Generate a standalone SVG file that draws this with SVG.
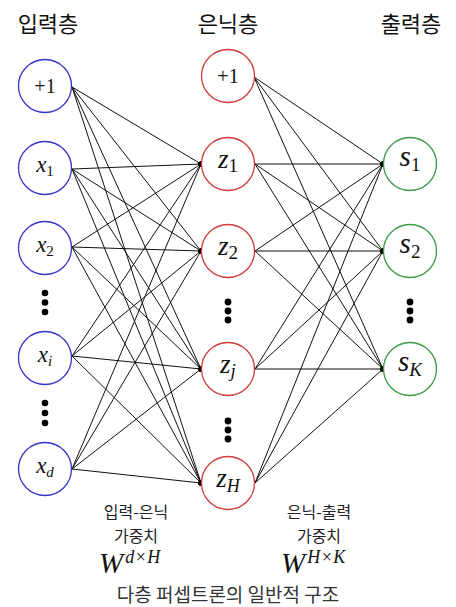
<svg xmlns="http://www.w3.org/2000/svg" width="456" height="607" viewBox="0 0 456 607">
  <style>
    .hdr { font-family: "Noto Sans CJK KR", "Noto Sans", sans-serif; font-size: 22px; fill: #111; text-anchor: middle; }
    .cap { font-family: "Noto Sans CJK KR", "Noto Sans", sans-serif; font-size: 16px; fill: #222; text-anchor: middle; }
    .ttl { font-family: "Noto Sans CJK KR", "Noto Sans", sans-serif; font-size: 19px; fill: #333; text-anchor: middle; }
    .math { font-family: "Liberation Serif", "DejaVu Serif", serif; fill: #111; text-anchor: middle; }
    .wt { font-family: "Liberation Serif", "DejaVu Serif", serif; fill: #111; }
    .it { font-style: italic; }
    .in { fill: #fff; stroke: #3434c8; stroke-width: 1.3; }
    .hid { fill: #fff; stroke: #d23a3a; stroke-width: 1.3; }
    .out { fill: #fff; stroke: #3c9a44; stroke-width: 1.3; }
    .edge { stroke: #111; stroke-width: 1; fill: none; marker-end: url(#dot); }
    .ell { fill: #000; }
  </style>
  <defs>
    <marker id="dot" viewBox="0 0 6 6" refX="3" refY="3" markerWidth="6" markerHeight="6" markerUnits="userSpaceOnUse">
      <circle cx="3" cy="3" r="2.6" fill="#000"/>
    </marker>
  </defs>
  <rect width="456" height="607" fill="#fff"/>

  <!-- layer headers -->
  <text class="hdr" x="48" y="32">입력층</text>
  <text class="hdr" x="228" y="32">은닉층</text>
  <text class="hdr" x="411" y="32">출력층</text>

  <!-- connectors -->
  <g id="connectors">
    <!-- input -> hidden -->
    <line class="edge" x1="72" y1="87" x2="201" y2="164"/>
    <line class="edge" x1="72" y1="87" x2="201" y2="251"/>
    <line class="edge" x1="72" y1="87" x2="201" y2="369"/>
    <line class="edge" x1="72" y1="87" x2="201" y2="483"/>
    <line class="edge" x1="72" y1="169" x2="201" y2="164"/>
    <line class="edge" x1="72" y1="169" x2="201" y2="251"/>
    <line class="edge" x1="72" y1="169" x2="201" y2="369"/>
    <line class="edge" x1="72" y1="169" x2="201" y2="483"/>
    <line class="edge" x1="72" y1="247" x2="201" y2="164"/>
    <line class="edge" x1="72" y1="247" x2="201" y2="251"/>
    <line class="edge" x1="72" y1="247" x2="201" y2="369"/>
    <line class="edge" x1="72" y1="247" x2="201" y2="483"/>
    <line class="edge" x1="72" y1="356" x2="201" y2="164"/>
    <line class="edge" x1="72" y1="356" x2="201" y2="251"/>
    <line class="edge" x1="72" y1="356" x2="201" y2="369"/>
    <line class="edge" x1="72" y1="356" x2="201" y2="483"/>
    <line class="edge" x1="72" y1="469" x2="201" y2="164"/>
    <line class="edge" x1="72" y1="469" x2="201" y2="251"/>
    <line class="edge" x1="72" y1="469" x2="201" y2="369"/>
    <line class="edge" x1="72" y1="469" x2="201" y2="483"/>
    <!-- hidden -> output -->
    <line class="edge" x1="254" y1="77" x2="383" y2="164"/>
    <line class="edge" x1="254" y1="77" x2="383" y2="251"/>
    <line class="edge" x1="254" y1="77" x2="383" y2="369"/>
    <line class="edge" x1="255" y1="164" x2="383" y2="164"/>
    <line class="edge" x1="255" y1="164" x2="383" y2="251"/>
    <line class="edge" x1="255" y1="164" x2="383" y2="369"/>
    <line class="edge" x1="255" y1="251" x2="383" y2="164"/>
    <line class="edge" x1="255" y1="251" x2="383" y2="251"/>
    <line class="edge" x1="255" y1="251" x2="383" y2="369"/>
    <line class="edge" x1="255" y1="369" x2="383" y2="164"/>
    <line class="edge" x1="255" y1="369" x2="383" y2="251"/>
    <line class="edge" x1="255" y1="369" x2="383" y2="369"/>
    <line class="edge" x1="255" y1="483" x2="383" y2="164"/>
    <line class="edge" x1="255" y1="483" x2="383" y2="251"/>
    <line class="edge" x1="255" y1="483" x2="383" y2="369"/>
  </g>

  <!-- input layer -->
  <g id="in-bias">
    <circle class="in" cx="45" cy="86" r="26.5"/>
    <text class="math" x="45" y="93" font-size="20">+1</text>
  </g>
  <g id="in-x1">
    <circle class="in" cx="45" cy="168" r="26.5"/>
    <text class="math" x="45" y="172" font-size="23"><tspan class="it">x</tspan><tspan font-size="15" dy="4">1</tspan></text>
  </g>
  <g id="in-x2">
    <circle class="in" cx="45" cy="248" r="26.5"/>
    <text class="math" x="45" y="252" font-size="23"><tspan class="it">x</tspan><tspan font-size="15" dy="4">2</tspan></text>
  </g>
  <g id="in-xi">
    <circle class="in" cx="45" cy="358" r="26.5"/>
    <text class="math" x="45" y="362" font-size="23"><tspan class="it">x</tspan><tspan class="it" font-size="15" dy="4">i</tspan></text>
  </g>
  <g id="in-xd">
    <circle class="in" cx="45" cy="469" r="26.5"/>
    <text class="math" x="45" y="473" font-size="23"><tspan class="it">x</tspan><tspan class="it" font-size="15" dy="4">d</tspan></text>
  </g>
  <g id="in-dots">
    <circle class="ell" cx="45" cy="293" r="3.3"/>
    <circle class="ell" cx="45" cy="302.5" r="3.3"/>
    <circle class="ell" cx="45" cy="312" r="3.3"/>
    <circle class="ell" cx="45" cy="403" r="3.3"/>
    <circle class="ell" cx="45" cy="413" r="3.3"/>
    <circle class="ell" cx="45" cy="423" r="3.3"/>
  </g>

  <!-- hidden layer -->
  <g id="hid-bias">
    <circle class="hid" cx="228" cy="76" r="26.5"/>
    <text class="math" x="228" y="83" font-size="20">+1</text>
  </g>
  <g id="hid-z1">
    <circle class="hid" cx="228" cy="164" r="26.5"/>
    <text class="math" x="228" y="168" font-size="27"><tspan class="it">z</tspan><tspan font-size="19" dy="4">1</tspan></text>
  </g>
  <g id="hid-z2">
    <circle class="hid" cx="228" cy="251" r="26.5"/>
    <text class="math" x="228" y="255" font-size="27"><tspan class="it">z</tspan><tspan font-size="19" dy="4">2</tspan></text>
  </g>
  <g id="hid-zj">
    <circle class="hid" cx="228" cy="369" r="26.5"/>
    <text class="math" x="228" y="373" font-size="27"><tspan class="it">z</tspan><tspan class="it" font-size="19" dy="4">j</tspan></text>
  </g>
  <g id="hid-zH">
    <circle class="hid" cx="228" cy="483" r="26.5"/>
    <text class="math" x="228" y="487" font-size="27"><tspan class="it">z</tspan><tspan class="it" font-size="18" dy="5">H</tspan></text>
  </g>
  <g id="hid-dots">
    <circle class="ell" cx="228" cy="302" r="3.4"/>
    <circle class="ell" cx="228" cy="311" r="3.4"/>
    <circle class="ell" cx="228" cy="320" r="3.4"/>
    <circle class="ell" cx="228" cy="421" r="3.4"/>
    <circle class="ell" cx="228" cy="430" r="3.4"/>
    <circle class="ell" cx="228" cy="439" r="3.4"/>
  </g>

  <!-- output layer -->
  <g id="out-s1">
    <circle class="out" cx="410" cy="164" r="26.5"/>
    <text class="math" x="410" y="166" font-size="29"><tspan class="it">s</tspan><tspan font-size="19" dy="5">1</tspan></text>
  </g>
  <g id="out-s2">
    <circle class="out" cx="410" cy="251" r="26.5"/>
    <text class="math" x="410" y="253" font-size="29"><tspan class="it">s</tspan><tspan font-size="19" dy="5">2</tspan></text>
  </g>
  <g id="out-sK">
    <circle class="out" cx="410" cy="369" r="26.5"/>
    <text class="math" x="410" y="371" font-size="29"><tspan class="it">s</tspan><tspan class="it" font-size="19" dy="5">K</tspan></text>
  </g>
  <g id="out-dots">
    <circle class="ell" cx="410" cy="302" r="3.4"/>
    <circle class="ell" cx="410" cy="311" r="3.4"/>
    <circle class="ell" cx="410" cy="320" r="3.4"/>
  </g>

  <!-- weight captions -->
  <g id="w-in-hid">
    <text class="cap" x="136" y="518">입력-은닉</text>
    <text class="cap" x="136" y="541.5">가중치</text>
    <text class="wt" x="99" y="573" font-size="29"><tspan class="it">W</tspan><tspan font-size="18" dy="-10" dx="2"><tspan class="it">d</tspan><tspan dx="1.5">×</tspan><tspan class="it" dx="1.5">H</tspan></tspan></text>
  </g>
  <g id="w-hid-out">
    <text class="cap" x="319" y="518">은닉-출력</text>
    <text class="cap" x="319" y="541.5">가중치</text>
    <text class="wt" x="281" y="573" font-size="29"><tspan class="it">W</tspan><tspan font-size="18" dy="-10" dx="2"><tspan class="it">H</tspan><tspan dx="1.5">×</tspan><tspan class="it" dx="1.5">K</tspan></tspan></text>
  </g>

  <text class="ttl" x="228" y="602">다층 퍼셉트론의 일반적 구조</text>
</svg>
